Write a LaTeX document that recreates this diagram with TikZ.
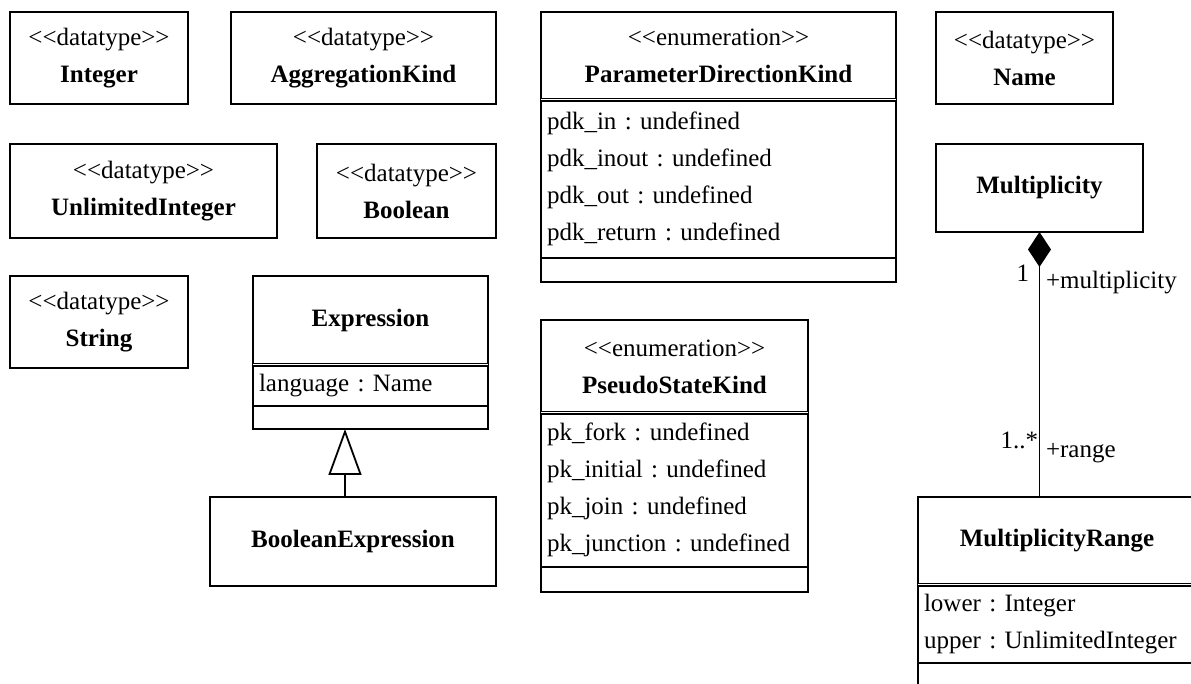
\documentclass[tikz,border=0pt]{standalone}
\usepackage{fontspec}
\setmainfont{Liberation Serif}
\usepackage{tikz}
\usetikzlibrary{positioning,arrows.meta}
\frenchspacing

\begin{document}
\begin{tikzpicture}[x=0.5pt,y=-0.5pt,line width=0.9pt,
  every node/.style={font=\fontsize{12.5}{18.5}\selectfont,inner sep=0pt,outer sep=0pt},
  cls/.style={draw,align=center},
  comp/.style={draw,align=left,inner xsep=3pt},
  hsep/.style={double,double distance=0.5pt,line width=0.6pt}]
\clip (0,0) rectangle (1191,684);

% datatypes
\node[cls,minimum width=89pt,minimum height=46pt] (integer) at (99,58) {<{}<datatype>{}>\\\textbf{Integer}};
\node[cls,minimum width=132.5pt,minimum height=46pt] (aggkind) at (363.5,58) {<{}<datatype>{}>\\\textbf{AggregationKind}};
\node[cls,minimum width=133.5pt,minimum height=47pt] (unlimint) at (143.5,191) {<{}<datatype>{}>\\\textbf{UnlimitedInteger}};
\node[cls,minimum width=89.5pt,minimum height=47pt] (boolean) at (406.5,191) {<{}<datatype>{}>\\\textbf{Boolean}};
\node[cls,minimum width=89pt,minimum height=46pt] (string) at (99,322) {<{}<datatype>{}>\\\textbf{String}};
\node[cls,minimum width=88.5pt,minimum height=46pt] (name) at (1024.5,58) {<{}<datatype>{}>\\\textbf{Name}};

% Expression and its subclass
\node[cls,minimum width=117.5pt,minimum height=44.5pt] (exprhead) at (370.5,320.5) {\textbf{Expression}};
\node[comp,text width=111.5pt,minimum height=20.5pt,below=0pt of exprhead] (exprattr) {language : Name};
\node[draw,minimum width=117.5pt,minimum height=11.5pt,below=0pt of exprattr] (exprops) {};
\draw[hsep] (exprhead.south west) -- (exprhead.south east);
\node[cls,minimum width=143pt,minimum height=44.5pt] (boolexpr) at (353,541.5) {\textbf{BooleanExpression}};
\draw[-{Triangle[open,length=23pt,width=16.5pt]}] ([xshift=-4pt]boolexpr.north) -- ([xshift=-4pt]boolexpr.north |- exprops.south);

% enumerations
\node[cls,minimum width=177.5pt,minimum height=44pt] (pdkhead) at (718.5,56) {<{}<enumeration>{}>\\\textbf{ParameterDirectionKind}};
\node[comp,text width=171.5pt,minimum height=79pt,below=0pt of pdkhead] (pdkattr) {pdk\_in : undefined\\pdk\_inout : undefined\\pdk\_out : undefined\\pdk\_return : undefined};
\node[draw,minimum width=177.5pt,minimum height=12pt,below=0pt of pdkattr] (pdkops) {};
\draw[hsep] (pdkhead.south west) -- (pdkhead.south east);

\node[cls,minimum width=133.5pt,minimum height=46.5pt] (pskhead) at (674.5,366.5) {<{}<enumeration>{}>\\\textbf{PseudoStateKind}};
\node[comp,text width=127.5pt,minimum height=77pt,below=0pt of pskhead] (pskattr) {pk\_fork : undefined\\pk\_initial : undefined\\pk\_join : undefined\\pk\_junction : undefined};
\node[draw,minimum width=133.5pt,minimum height=12.5pt,below=0pt of pskattr] (pskops) {};
\draw[hsep] (pskhead.south west) -- (pskhead.south east);

% multiplicity
\node[cls,minimum width=103.5pt,minimum height=44pt] (mult) at (1039.5,188) {\textbf{Multiplicity}};
\node[cls,minimum width=139pt,minimum height=44pt] (mrhead) at (1057,541) {\textbf{MultiplicityRange}};
\node[comp,text width=133pt,minimum height=39pt,below=0pt of mrhead] (mrattr) {lower : Integer\\upper : UnlimitedInteger};
\node[draw,minimum width=139pt,minimum height=20pt,below=0pt of mrattr] (mrops) {};
\draw[hsep] (mrhead.south west) -- (mrhead.south east);

\draw[{Diamond[length=17.5pt,width=11.5pt]}-] (mult.south) -- (mult.south |- mrhead.north);
\node[anchor=east] (multone) at (1029,273) {1};
\node[anchor=west] (multrole) at (1046,283) {+multiplicity};
\node[anchor=east] (rangemany) at (1038,440) {1..*};
\node[anchor=west] (rangerole) at (1046,453) {+range};
\end{tikzpicture}
\end{document}
